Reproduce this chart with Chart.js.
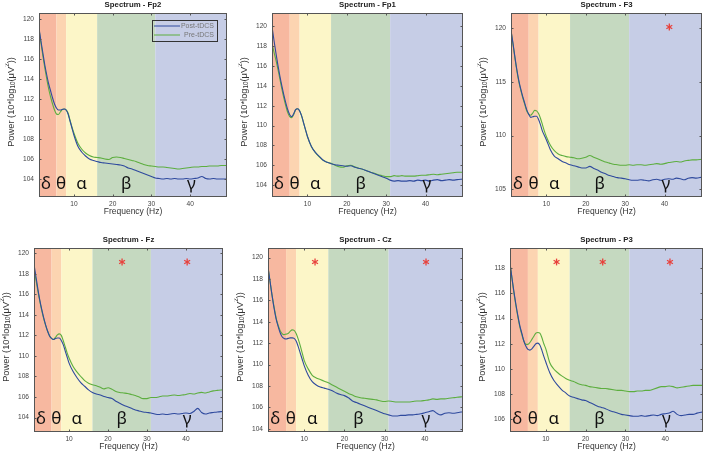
<!DOCTYPE html>
<html>
<head>
<meta charset="utf-8">
<script src="https://cdn.jsdelivr.net/npm/chart.js@4.4.0/dist/chart.umd.min.js"></script>
<style>
  html, body { margin: 0; padding: 0; background: #fff; }
  #wrap { position: relative; width: 706px; height: 455px; overflow: hidden; }
</style>
</head>
<body>
<div id="wrap"></div>
<script>
// frequency bins (Hz)
const freq = [1, 1.5, 2, 2.5, 3, 3.5, 4, 4.5, 5, 5.5, 6, 6.5, 7, 7.5, 8, 8.5, 9, 9.5, 10,
  11, 12, 13, 14, 15, 16, 17, 18, 19, 20, 21, 22, 23, 24, 25, 26, 27, 28, 29, 30,
  31, 32, 33, 34, 35, 36, 37, 38, 39, 40, 41, 42, 43, 44, 45, 46, 47, 48, 49.5];

const fp2Post = [119.1, 117.8, 116.6, 115.4, 114.4, 113.5, 112.8, 112.1, 111.5, 111.1, 110.9, 110.9, 110.95, 111.0, 110.9, 110.5, 109.8, 109.1, 108.4,
  107.3, 106.7, 106.3, 106.0, 105.85, 105.75, 105.65, 105.6, 105.55, 105.5,
  105.45, 105.4, 105.3, 105.1, 105.0, 104.85, 104.7, 104.55, 104.4, 104.25,
  104.1, 104.05, 104.0, 104.05, 104.0, 104.05, 104.0, 104.0, 104.05, 104.0,
  104.05, 104.1, 104.25, 104.05, 104.0, 104.05, 104.0, 104.0, 104.0];
const fp2Pre = [119.0, 117.6, 116.3, 115.1, 114.0, 113.0, 112.2, 111.5, 110.9, 110.5, 110.45, 110.7, 110.95, 111.0, 110.9, 110.6, 109.9, 109.2, 108.6,
  107.6, 107.0, 106.6, 106.35, 106.2, 106.15, 106.1, 106.0, 105.95, 106.15,
  106.2, 106.15, 106.05, 105.95, 105.85, 105.75, 105.6, 105.45, 105.35, 105.3,
  105.25, 105.2, 105.2, 105.15, 105.1, 105.05, 105.0, 105.05, 105.1, 105.15,
  105.2, 105.2, 105.25, 105.25, 105.3, 105.3, 105.3, 105.35, 105.35];

const fp1Post = [120.0, 118.6, 117.3, 116.1, 115.0, 114.0, 113.1, 112.3, 111.6, 111.1, 110.9, 111.2, 111.6, 111.7, 111.5, 111.0, 110.3, 109.6, 108.9,
  107.9, 107.3, 106.9, 106.5, 106.3, 106.15, 106.05, 106.0, 105.95, 105.9,
  105.95, 105.8, 105.7, 105.6, 105.45, 105.3, 105.15, 105.0, 104.85, 104.7,
  104.5, 104.4, 104.45, 104.4, 104.4, 104.45, 104.4, 104.5, 104.45, 104.5,
  104.4, 104.5, 104.55, 104.45, 104.5, 104.55, 104.5, 104.55, 104.6];
const fp1Pre = [118.3, 117.4, 116.6, 115.7, 114.7, 113.7, 112.8, 112.0, 111.3, 110.9, 110.8, 111.1, 111.6, 111.7, 111.5, 111.0, 110.3, 109.6, 108.9,
  107.9, 107.3, 106.85, 106.5, 106.3, 106.2, 106.0, 105.85, 105.8, 105.95,
  106.0, 105.85, 105.7, 105.6, 105.45, 105.3, 105.2, 105.05, 104.95, 104.85,
  104.85, 104.95, 104.9, 104.95, 104.9, 104.9, 104.9, 104.95, 105.0, 105.0,
  105.05, 105.1, 105.05, 105.1, 105.15, 105.2, 105.25, 105.3, 105.3];

const f3Post = [119.8, 118.6, 117.3, 116.1, 115.1, 114.3, 113.6, 113.0, 112.4, 112.0, 111.7, 111.75, 111.8, 111.8, 111.5, 111.0, 110.4, 110.0, 109.6,
  108.7, 108.1, 107.85, 107.6, 107.45, 107.3, 107.2, 107.1, 107.0, 107.0,
  107.15, 106.95, 106.8, 106.6, 106.45, 106.3, 106.2, 106.1, 106.05, 106.0,
  105.9, 105.85, 105.85, 105.9, 105.85, 105.8, 105.9, 105.95, 105.85, 105.95,
  106.0, 105.95, 106.05, 106.0, 105.9, 106.05, 106.1, 106.05, 106.15];
const f3Pre = [119.8, 118.5, 117.2, 116.0, 115.0, 114.2, 113.5, 112.9, 112.3, 112.0, 111.9, 112.1, 112.35, 112.3, 112.05, 111.6, 111.0, 110.4, 109.9,
  109.1, 108.6, 108.3, 108.15, 108.05, 108.0, 107.95, 107.85, 107.9, 108.0,
  108.15, 108.0, 107.85, 107.7, 107.55, 107.45, 107.35, 107.3, 107.25, 107.25,
  107.3, 107.25, 107.3, 107.3, 107.25, 107.3, 107.35, 107.4, 107.35, 107.4,
  107.5, 107.55, 107.6, 107.55, 107.65, 107.7, 107.75, 107.75, 107.8];

const fzPost = [118.9, 117.7, 116.5, 115.4, 114.5, 113.7, 113.0, 112.4, 111.95, 111.7, 111.6, 111.7, 111.75, 111.75, 111.5, 111.1, 110.5, 109.9, 109.3,
  108.5, 107.9, 107.4, 107.05, 106.7, 106.45, 106.3, 106.2, 106.05, 105.95,
  105.85, 105.6, 105.4, 105.2, 105.05, 104.9, 104.75, 104.65, 104.55, 104.5,
  104.45, 104.35, 104.3, 104.35, 104.3, 104.35, 104.4, 104.35, 104.4, 104.45,
  104.4, 104.6, 104.9, 104.5, 104.35, 104.45, 104.5, 104.55, 104.6];
const fzPre = [118.5, 117.4, 116.3, 115.3, 114.4, 113.6, 112.95, 112.4, 111.95, 111.7, 111.6, 111.8, 112.05, 112.15, 112.0, 111.5, 110.9, 110.3, 109.8,
  109.0, 108.45, 108.0, 107.6, 107.35, 107.2, 107.1, 106.95, 106.8, 106.9,
  106.75, 106.55, 106.45, 106.4, 106.35, 106.25, 106.15, 106.0, 105.85, 105.85,
  105.95, 105.95, 106.0, 106.1, 106.1, 106.15, 106.2, 106.15, 106.2, 106.25,
  106.35, 106.3, 106.4, 106.45, 106.4, 106.5, 106.6, 106.65, 106.7];

const czPost = [119.1, 117.8, 116.5, 115.3, 114.3, 113.6, 113.0, 112.6, 112.45, 112.4, 112.45, 112.5, 112.5, 112.45, 112.2, 111.7, 111.1, 110.5, 109.9,
  109.0, 108.4, 108.1, 107.9, 107.8, 107.7, 107.55, 107.35, 107.2, 107.1,
  106.9, 106.6, 106.45, 106.3, 106.15, 106.0, 105.85, 105.7, 105.55, 105.4,
  105.3, 105.2, 105.2, 105.25, 105.25, 105.3, 105.3, 105.35, 105.4, 105.5,
  105.6, 105.7, 105.45, 105.3, 105.45, 105.5, 105.45, 105.5, 105.6];
const czPre = [119.1, 117.8, 116.5, 115.4, 114.4, 113.7, 113.2, 112.9, 112.8, 112.85, 112.9, 113.1, 113.25, 113.2, 112.9, 112.4, 111.8, 111.1, 110.4,
  109.6, 109.0, 108.75, 108.6, 108.45, 108.3, 108.1, 107.9, 107.7, 107.5,
  107.3, 107.15, 107.0, 106.9, 106.85, 106.8, 106.75, 106.7, 106.6, 106.55,
  106.6, 106.55, 106.5, 106.5, 106.5, 106.5, 106.55, 106.6, 106.6, 106.65,
  106.7, 106.8, 106.75, 106.8, 106.8, 106.85, 106.9, 106.95, 107.0];

const p3Post = [118.4, 117.2, 116.1, 115.1, 114.2, 113.4, 112.8, 112.2, 111.8, 111.55, 111.5, 111.6, 111.8, 112.0, 112.05, 111.9, 111.5, 111.0, 110.55,
  109.7, 109.1, 108.7, 108.35, 108.1, 107.85, 107.75, 107.65, 107.55, 107.5,
  107.35, 107.2, 107.05, 106.95, 106.85, 106.7, 106.6, 106.5, 106.4, 106.35,
  106.3, 106.25, 106.25, 106.3, 106.25, 106.3, 106.35, 106.3, 106.4, 106.45,
  106.5, 106.65, 106.4, 106.3, 106.35, 106.4, 106.4, 106.5, 106.6];
const p3Pre = [118.4, 117.2, 116.0, 115.0, 114.1, 113.3, 112.7, 112.2, 111.95, 111.95, 112.1, 112.35, 112.6, 112.85, 112.9, 112.85, 112.5, 112.0, 111.6,
  110.5, 110.0, 109.7, 109.45, 109.25, 109.1, 109.0, 108.85, 108.75, 108.7,
  108.6, 108.55, 108.5, 108.45, 108.45, 108.4, 108.35, 108.3, 108.3, 108.25,
  108.2, 108.2, 108.25, 108.25, 108.3, 108.3, 108.4, 108.5, 108.6, 108.6,
  108.65, 108.6, 108.5, 108.55, 108.6, 108.65, 108.7, 108.7, 108.7];

// tick labels
const xTicks = [10, 20, 30, 40];
const yTicksEven = [104, 106, 108, 110, 112, 114, 116, 118, 120];
const yTicksF3 = [105, 110, 115, 120];
const yTicksP3 = [106, 108, 110, 112, 114, 116, 118];

// frequency bands
const bandNames = ['δ', 'θ', 'α', 'β', 'γ'];
const bandEdges = [1, 5.5, 8, 16, 31, 49.5];
const bandLabelAt = [2.8, 6.7, 12, 23.5, 40.3];

// significant bands (asterisk positions, Hz)
const starsF3 = [41.2];
const starsFz = [23.6, 40.3];
const starsCz = [12.7, 40.3];
const starsP3 = [12.7, 24.3, 41.2];

const bandColors = ['#f7b8a0', '#fcd4b1', '#fcf6c8', '#c5d9c0', '#c6cde6'];
const POST_COLOR = '#2f4a9e';
const PRE_COLOR = '#5dae3f';
const FONT = '"Liberation Sans", Arial, Helvetica, sans-serif';

const PAD_L = 34, PAD_T = 13, PAD_R = 3, PAD_B = 24;

const panels = [
  { title: 'Spectrum - Fp2', post: fp2Post, pre: fp2Pre, yMin: 102.2, yMax: 120.6, yTicks: yTicksEven, stars: [], legend: true, box: [39, 13, 227, 197] },
  { title: 'Spectrum - Fp1', post: fp1Post, pre: fp1Pre, yMin: 102.8, yMax: 121.35, yTicks: yTicksEven, stars: [], legend: false, box: [272, 13, 463, 197] },
  { title: 'Spectrum - F3', post: f3Post, pre: f3Pre, yMin: 104.3, yMax: 121.4, yTicks: yTicksF3, stars: starsF3, legend: false, box: [511, 13, 702, 197] },
  { title: 'Spectrum - Fz', post: fzPost, pre: fzPre, yMin: 102.6, yMax: 120.5, yTicks: yTicksEven, stars: starsFz, legend: false, box: [34, 248, 223, 432] },
  { title: 'Spectrum - Cz', post: czPost, pre: czPre, yMin: 103.7, yMax: 120.9, yTicks: yTicksEven, stars: starsCz, legend: false, box: [268, 248, 463, 432] },
  { title: 'Spectrum - P3', post: p3Post, pre: p3Pre, yMin: 105.0, yMax: 119.6, yTicks: yTicksP3, stars: starsP3, legend: false, box: [510, 248, 703, 432] }
];

function drawYLabel(ctx, cx, cy) {
  const big = '9.3px ' + FONT, small = '6.3px ' + FONT;
  const parts = [['Power (10*log', big, 0], ['10', small, 2.5], ['(\u03BCV', big, 0], ['2', small, -3.5], ['))', big, 0]];
  ctx.save();
  ctx.translate(cx, cy);
  ctx.rotate(-Math.PI / 2);
  let total = 0;
  parts.forEach(p => { ctx.font = p[1]; total += ctx.measureText(p[0]).width; });
  let xx = -total / 2;
  ctx.textBaseline = 'middle';
  ctx.textAlign = 'left';
  ctx.fillStyle = '#333';
  parts.forEach(p => { ctx.font = p[1]; ctx.fillText(p[0], xx, p[2]); xx += ctx.measureText(p[0]).width; });
  ctx.restore();
}

const decor = {
  id: 'decor',
  beforeDatasetsDraw(chart) {
    const { ctx, chartArea: a, scales: { x } } = chart;
    ctx.save();
    ctx.beginPath();
    ctx.rect(a.left, a.top, a.right - a.left, a.bottom - a.top);
    ctx.clip();
    for (let i = 0; i < bandNames.length; i++) {
      const x0 = x.getPixelForValue(bandEdges[i]);
      const x1 = x.getPixelForValue(bandEdges[i + 1]);
      ctx.fillStyle = bandColors[i];
      ctx.fillRect(x0, a.top, x1 - x0, a.bottom - a.top);
    }
    ctx.restore();
  },
  afterDatasetsDraw(chart, args, opts) {
    const { ctx, chartArea: a, scales: { x, y } } = chart;
    ctx.save();

    // band letters
    ctx.font = '17px "Noto Sans", "DejaVu Sans", sans-serif';
    ctx.fillStyle = '#111';
    ctx.textAlign = 'center';
    ctx.textBaseline = 'alphabetic';
    bandNames.forEach((n, i) => ctx.fillText(n, x.getPixelForValue(bandLabelAt[i]), a.bottom - 8));

    // significance asterisks
    ctx.strokeStyle = '#e8413c';
    ctx.lineWidth = 1.3;
    opts.stars.forEach(f => {
      const cx = x.getPixelForValue(f), cy = a.top + 14, r = 3.4;
      for (let k = 0; k < 3; k++) {
        const ang = Math.PI / 2 + k * Math.PI / 3;
        ctx.beginPath();
        ctx.moveTo(cx - r * Math.cos(ang), cy - r * Math.sin(ang));
        ctx.lineTo(cx + r * Math.cos(ang), cy + r * Math.sin(ang));
        ctx.stroke();
      }
    });

    // axes box and inward ticks
    ctx.strokeStyle = '#555';
    ctx.lineWidth = 1;
    ctx.strokeRect(a.left + 0.5, a.top + 0.5, a.right - a.left - 1, a.bottom - a.top - 1);
    ctx.beginPath();
    xTicks.forEach(v => {
      const px = Math.round(x.getPixelForValue(v)) + 0.5;
      ctx.moveTo(px, a.bottom); ctx.lineTo(px, a.bottom - 2.5);
      ctx.moveTo(px, a.top); ctx.lineTo(px, a.top + 2.5);
    });
    opts.yTicks.forEach(v => {
      const py = Math.round(y.getPixelForValue(v)) + 0.5;
      ctx.moveTo(a.left, py); ctx.lineTo(a.left + 2.5, py);
      ctx.moveTo(a.right, py); ctx.lineTo(a.right - 2.5, py);
    });
    ctx.stroke();

    // legend
    if (opts.legend) {
      const bw = 65, bh = 21;
      const bx = a.right - 10 - bw, by = a.top + 7;
      ctx.strokeStyle = '#333';
      ctx.strokeRect(bx + 0.5, by + 0.5, bw, bh);
      ctx.font = '7px ' + FONT;
      ctx.textAlign = 'right';
      ctx.textBaseline = 'middle';
      chart.data.datasets.forEach((ds, i) => {
        const ly = by + 6 + i * 9;
        ctx.strokeStyle = ds.borderColor;
        ctx.beginPath();
        ctx.moveTo(bx + 2, ly); ctx.lineTo(bx + 28, ly);
        ctx.stroke();
        ctx.fillStyle = '#777';
        ctx.fillText(ds.label, bx + bw - 3, ly + 0.5);
      });
    }

    // title and axis labels
    const cx = (a.left + a.right) / 2;
    ctx.fillStyle = '#222';
    ctx.textAlign = 'center';
    ctx.textBaseline = 'middle';
    ctx.font = 'bold 7.8px ' + FONT;
    ctx.fillText(opts.title, cx, a.top - 8);
    ctx.fillStyle = '#333';
    ctx.font = '8.5px ' + FONT;
    ctx.fillText('Frequency (Hz)', cx, a.bottom + 15);
    drawYLabel(ctx, a.left - 28, (a.top + a.bottom) / 2 - 3);

    ctx.restore();
  }
};

Chart.defaults.font.family = FONT;
Chart.defaults.font.size = 6.6;
Chart.defaults.color = '#444';

const wrap = document.getElementById('wrap');
panels.forEach(p => {
  const [L, T, R, B] = p.box;
  const w = R - L + PAD_L + PAD_R, h = B - T + PAD_T + PAD_B;
  const cv = document.createElement('canvas');
  cv.width = w; cv.height = h;
  cv.style.cssText = `position:absolute;left:${L - PAD_L}px;top:${T - PAD_T}px;width:${w}px;height:${h}px;`;
  wrap.appendChild(cv);

  new Chart(cv, {
    type: 'line',
    data: {
      datasets: [
        { label: 'Post-tDCS', data: freq.map((f, i) => ({ x: f, y: p.post[i] })), borderColor: POST_COLOR, borderWidth: 1.1, pointRadius: 0, cubicInterpolationMode: 'monotone' },
        { label: 'Pre-tDCS', data: freq.map((f, i) => ({ x: f, y: p.pre[i] })), borderColor: PRE_COLOR, borderWidth: 1.1, pointRadius: 0, cubicInterpolationMode: 'monotone' }
      ]
    },
    plugins: [decor],
    options: {
      responsive: false,
      animation: false,
      devicePixelRatio: 1,
      events: [],
      layout: { padding: { left: 0, top: PAD_T, right: PAD_R, bottom: 0 } },
      plugins: {
        legend: { display: false },
        tooltip: { enabled: false },
        decor: { title: p.title, stars: p.stars, legend: p.legend, yTicks: p.yTicks }
      },
      scales: {
        x: {
          type: 'linear', min: 1, max: 49.5,
          afterBuildTicks: s => { s.ticks = xTicks.map(v => ({ value: v })); },
          afterFit: s => { s.height = PAD_B; },
          grid: { display: false, drawTicks: false },
          border: { display: false },
          ticks: { padding: 3, maxRotation: 0, autoSkip: false }
        },
        y: {
          type: 'linear', min: p.yMin, max: p.yMax,
          afterBuildTicks: s => { s.ticks = p.yTicks.map(v => ({ value: v })); },
          afterFit: s => { s.width = PAD_L; },
          grid: { display: false, drawTicks: false },
          border: { display: false },
          ticks: { padding: 5, autoSkip: false }
        }
      }
    }
  });
});
</script>
</body>
</html>
